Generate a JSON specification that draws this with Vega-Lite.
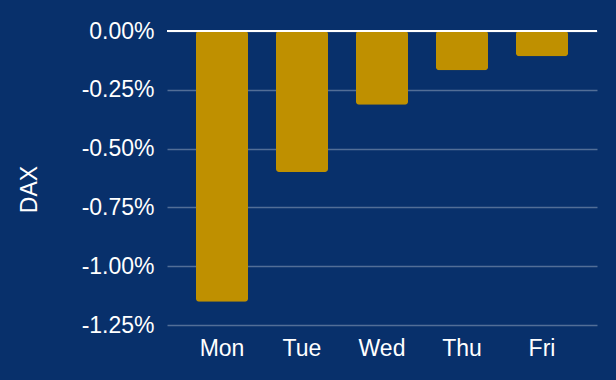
{
  "$schema": "https://vega.github.io/schema/vega-lite/v6.json",
  "width": 430,
  "height": 294,
  "autosize": {"type": "none"},
  "padding": {"left": 167, "top": 31, "right": 19, "bottom": 55},
  "background": "#08306b",
  "config": {
    "view": {"stroke": null},
    "font": "Liberation Sans",
    "axis": {"labelFont": "Liberation Sans", "titleFont": "Liberation Sans"}
  },
  "data": {
    "values": [
      {"day": "Mon", "ret": -0.01151},
      {"day": "Tue", "ret": -0.0060},
      {"day": "Wed", "ret": -0.00314},
      {"day": "Thu", "ret": -0.00167},
      {"day": "Fri", "ret": -0.00107}
    ]
  },
  "layer": [
    {
      "mark": {"type": "bar", "color": "#bf9000", "cornerRadius": 3},
      "encoding": {
        "x": {
          "field": "day", "type": "nominal", "sort": null,
          "scale": {"paddingInner": 0.35, "paddingOuter": 0.3625},
          "axis": {"title": null, "labelAngle": 0, "labelColor": "white", "labelFontSize": 23, "labelPadding": 12, "domain": false, "ticks": false}
        },
        "y": {
          "field": "ret", "type": "quantitative",
          "scale": {"domain": [-0.0125, 0], "nice": false, "zero": false},
          "axis": {
            "title": "DAX", "titleColor": "white", "titleFontSize": 23, "titleFontWeight": "normal", "titlePadding": 40, "titleY": 158,
            "values": [0, -0.0025, -0.005, -0.0075, -0.01, -0.0125],
            "labelExpr": "replace(format(datum.value, '.2%'), '\u2212', '-')",
            "labelColor": "white", "labelFontSize": 23, "labelPadding": 13,
            "domain": false, "ticks": false,
            "gridColor": "#ffffff", "gridOpacity": 0.3, "gridWidth": 1.5
          }
        }
      }
    },
    {
      "mark": {"type": "rule", "color": "white", "strokeWidth": 2},
      "encoding": {"y": {"datum": 0}}
    }
  ]
}
